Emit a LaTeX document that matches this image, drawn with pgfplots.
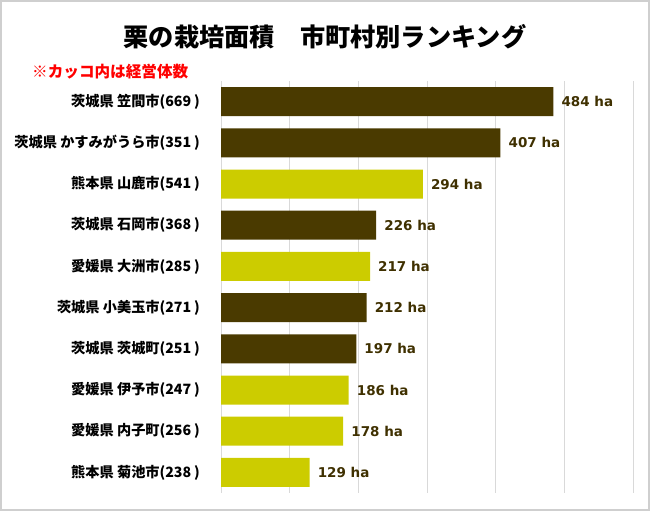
\documentclass[border=0pt]{standalone}
\usepackage{pgfplots}
\pgfplotsset{compat=1.18}
\usepackage{fontspec}
\setmainfont{DejaVu Sans}
\newfontfamily\jp{Noto Sans CJK JP}

\definecolor{kuri}{HTML}{4A3A00}
\definecolor{kiiro}{HTML}{CCCC00}
\definecolor{lbl}{HTML}{3F3000}
\definecolor{gridc}{HTML}{D9D9D9}
\definecolor{framec}{HTML}{CFCFCF}

% y = rank (0 = top), x = area in ha
\pgfplotstableread{
y  ha
0  484
1  407
3  226
5  212
6  197
}\ibaraki
\pgfplotstableread{
y  ha
2  294
4  217
7  186
8  178
9  129
}\others

\begin{document}
\begin{tikzpicture}
\path[use as bounding box] (0,0) rectangle (650bp,511bp);
\draw[framec, line width=1.5bp] (1bp,1bp) rectangle (649bp,510bp);

\node[font=\jp\bfseries\fontsize{25.2bp}{25.2bp}\selectfont] at (325bp,474bp)
  {栗の栽培面積　市町村別ランキング};
\node[anchor=west, inner sep=0pt, text=red,
  font=\jp\bfseries\fontsize{15.6bp}{15.6bp}\selectfont] at (32bp,439bp)
  {※カッコ内は経営体数};

\begin{axis}[
  at={(221bp,18bp)}, anchor=south west,
  scale only axis, width=412bp, height=412bp,
  xbar, bar width=29bp, bar shift=0pt,
  xmin=0, xmax=600, xtick={0,100,...,600}, xticklabels={},
  ymin=-0.5, ymax=9.5, y dir=reverse,
  ytick={0,...,9},
  yticklabels={
    茨城県 笠間市(669\kern0.2em),
    茨城県 かすみがうら市(351\kern0.2em),
    熊本県 山鹿市(541\kern0.2em),
    茨城県 石岡市(368\kern0.2em),
    愛媛県 大洲市(285\kern0.2em),
    茨城県 小美玉市(271\kern0.2em),
    茨城県 茨城町(251\kern0.2em),
    愛媛県 伊予市(247\kern0.2em),
    愛媛県 内子町(256\kern0.2em),
    熊本県 菊池市(238\kern0.2em)},
  y tick label style={font=\jp\bfseries\fontsize{14.2bp}{14.2bp}\selectfont,
    inner sep=0pt, anchor=east, xshift=-21bp},
  axis line style={draw=none}, major tick length=0pt,
  xmajorgrids, grid style={draw=gridc, line width=1bp},
  point meta=x,
  /pgf/number format/assume math mode=true,
  nodes near coords={\pgfmathprintnumber{\pgfplotspointmeta} ha},
  nodes near coords style={font=\bfseries\fontsize{13.5bp}{13.5bp}\selectfont,
    text=lbl, anchor=west, inner sep=0pt, xshift=8bp},
]
\addplot[fill=kuri, draw=none] table[x=ha, y=y] {\ibaraki};
\addplot[fill=kiiro, draw=none] table[x=ha, y=y] {\others};
\end{axis}
\end{tikzpicture}
\end{document}
